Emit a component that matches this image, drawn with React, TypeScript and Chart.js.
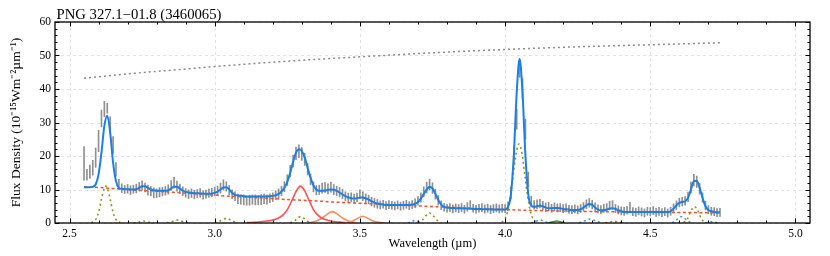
import { useEffect, useRef } from "react";
import { Chart, registerables } from "chart.js";

Chart.register(...registerables);

const TITLE = "PNG 327.1−01.8 (3460065)";
const X_LABEL = "Wavelength (µm)";
const Y_LABEL = "Flux Density (10⁻¹⁵Wm⁻²µm⁻¹)";

const X_MAJOR = [2.5, 3.0, 3.5, 4.0, 4.5, 5.0];
const X_MINOR = [2.5, 2.6, 2.7, 2.8, 2.9, 3.0, 3.1, 3.2, 3.3, 3.4, 3.5, 3.6, 3.7, 3.8, 3.9, 4.0, 4.1, 4.2, 4.3, 4.4, 4.5, 4.6, 4.7, 4.8, 4.9, 5.0];
const Y_MAJOR = [0, 10, 20, 30, 40, 50, 60];
const Y_MINOR = [0, 2, 4, 6, 8, 10, 12, 14, 16, 18, 20, 22, 24, 26, 28, 30, 32, 34, 36, 38, 40, 42, 44, 46, 48, 50, 52, 54, 56, 58, 60];

// sampling grid of the spectrum (2.55 .. 4.74 µm, 0.01 µm step)
const WL_START = 2.55;
const WL_STEP = 0.01;

// observed flux (centre) and 1-sigma error
const obsFlux = [
  17.8, 14.4, 15.3, 16.5, 19.5, 24.5, 31.2, 34.0, 34.3, 29.3,
  23.3, 16.0, 11.5, 10.4, 10.0, 10.2, 9.8, 10.1, 10.3, 10.8,
  11.2, 10.6, 9.8, 9.5, 9.0, 8.9, 9.2, 9.4, 9.6, 10.0,
  11.2, 12.0, 11.0, 10.2, 9.5, 9.0, 8.6, 8.9, 8.5, 8.8,
  9.0, 8.4, 8.6, 8.9, 9.1, 9.4, 9.6, 10.4, 11.4, 10.9,
  9.8, 8.6, 8.0, 7.2, 7.0, 6.9, 6.7, 6.8, 7.0, 6.9,
  6.8, 7.0, 7.2, 7.0, 7.4, 7.7, 8.3, 8.8, 9.6, 10.8,
  12.8, 15.5, 18.5, 20.8, 21.4, 20.6, 19.0, 16.0, 13.0, 10.8,
  9.8, 9.9, 10.4, 10.6, 10.2, 10.7, 10.0, 9.6, 9.2, 8.7,
  8.0, 7.6, 7.7, 7.3, 7.6, 8.6, 8.0, 7.4, 7.0, 6.4,
  6.0, 5.7, 5.4, 5.6, 5.2, 5.5, 5.3, 5.1, 5.4, 5.0,
  5.3, 5.6, 5.2, 5.5, 5.9, 6.6, 7.6, 9.3, 10.6, 11.5,
  10.4, 8.6, 6.8, 5.3, 4.7, 4.4, 4.6, 4.2, 4.5, 4.3,
  4.6, 4.1, 4.8, 5.4, 4.4, 4.1, 4.4, 4.6, 4.2, 4.4,
  4.0, 4.3, 4.5, 4.2, 4.4, 4.3, 5.0, 9.0, 20.0, 31.0,
  46.0, 40.0, 28.0, 13.0, 6.5, 5.4, 5.6, 5.8, 5.2, 4.7,
  4.9, 4.4, 4.8, 4.5, 4.6, 4.3, 4.5, 4.1, 4.0, 4.2,
  3.9, 4.3, 4.8, 5.6, 6.0, 5.5, 4.7, 4.2, 4.0, 4.4,
  4.6, 5.2, 5.4, 4.3, 3.9, 3.6, 3.5, 3.8, 4.9, 3.4,
  3.2, 3.6, 3.3, 3.0, 3.5, 3.4, 3.7, 3.2, 3.5, 3.1,
  3.4, 3.0, 3.5, 4.4, 5.3, 6.1, 6.4, 6.6, 7.8, 10.6,
  12.8, 12.3, 10.2, 7.6, 5.2, 4.0, 3.5, 3.4, 3.1, 3.2,
];
const obsErr = [
  5.0, 1.6, 2.0, 2.2, 2.9, 3.2, 2.5, 2.3, 1.5, 2.4,
  2.5, 2.0, 1.5, 1.3, 1.2, 1.3, 1.3, 1.2, 1.3, 1.3,
  1.4, 1.3, 1.5, 1.4, 1.5, 1.3, 1.4, 1.3, 1.3, 1.4,
  1.5, 1.6, 1.5, 1.4, 1.3, 1.3, 1.3, 1.3, 1.3, 1.2,
  1.3, 1.3, 1.2, 1.3, 1.3, 1.3, 1.4, 1.5, 1.5, 1.4,
  1.4, 1.3, 1.3, 1.4, 1.4, 1.5, 1.4, 1.5, 1.4, 1.5,
  1.4, 1.5, 1.4, 1.4, 1.3, 1.3, 1.3, 1.4, 1.4, 1.5,
  1.6, 1.7, 1.8, 1.9, 1.9, 1.9, 1.8, 1.7, 1.6, 1.5,
  1.4, 1.4, 1.5, 1.5, 1.5, 1.5, 1.5, 1.4, 1.4, 1.4,
  1.3, 1.3, 1.3, 1.3, 1.3, 1.3, 1.3, 1.3, 1.3, 1.3,
  1.3, 1.3, 1.2, 1.2, 1.2, 1.2, 1.2, 1.2, 1.2, 1.2,
  1.2, 1.2, 1.2, 1.2, 1.3, 1.3, 1.4, 1.5, 1.6, 1.6,
  1.6, 1.5, 1.4, 1.3, 1.2, 1.2, 1.2, 1.2, 1.2, 1.2,
  1.2, 1.2, 1.3, 1.3, 1.2, 1.2, 1.2, 1.2, 1.2, 1.2,
  1.2, 1.2, 1.2, 1.2, 1.2, 1.2, 1.3, 1.8, 2.5, 3.0,
  2.5, 3.0, 3.0, 2.2, 1.5, 1.3, 1.3, 1.3, 1.3, 1.3,
  1.3, 1.2, 1.2, 1.2, 1.2, 1.2, 1.2, 1.2, 1.2, 1.2,
  1.2, 1.2, 1.3, 1.3, 1.3, 1.3, 1.3, 1.2, 1.2, 1.2,
  1.2, 1.3, 1.3, 1.2, 1.2, 1.2, 1.2, 1.2, 1.3, 1.2,
  1.2, 1.2, 1.2, 1.2, 1.2, 1.2, 1.2, 1.2, 1.2, 1.2,
  1.2, 1.2, 1.2, 1.3, 1.3, 1.3, 1.3, 1.3, 1.4, 1.6,
  1.7, 1.7, 1.6, 1.4, 1.3, 1.2, 1.2, 1.2, 1.2, 1.2,
];

// total fitted model on the same grid
const modelFlux = [
  10.7, 10.7, 10.7, 10.8, 11.5, 14.5, 21.0, 29.0, 32.0, 27.0,
  18.0, 12.5, 10.5, 10.2, 10.1, 10.1, 10.0, 10.0, 10.1, 10.5,
  11.0, 11.0, 10.5, 10.0, 9.8, 9.7, 9.6, 9.6, 9.6, 9.8,
  10.3, 10.8, 10.8, 10.3, 9.7, 9.3, 9.1, 9.0, 8.9, 8.9,
  8.8, 8.8, 8.7, 8.7, 8.8, 9.0, 9.4, 10.0, 10.6, 10.7,
  10.0, 9.0, 8.4, 8.2, 8.1, 8.0, 7.9, 7.9, 7.9, 7.9,
  7.9, 7.9, 7.9, 7.9, 8.0, 8.1, 8.3, 8.7, 9.4, 10.5,
  12.3, 15.0, 18.3, 21.0, 22.0, 21.5, 19.5, 16.5, 13.5, 11.2,
  10.0, 9.6, 9.6, 9.7, 9.9, 10.0, 9.9, 9.6, 9.1, 8.5,
  8.0, 7.6, 7.4, 7.3, 7.4, 7.6, 7.6, 7.4, 7.0, 6.5,
  6.1, 5.8, 5.6, 5.5, 5.4, 5.4, 5.4, 5.4, 5.4, 5.4,
  5.4, 5.4, 5.4, 5.5, 5.7, 6.3, 7.3, 8.7, 10.0, 10.8,
  10.3, 8.7, 6.9, 5.5, 4.8, 4.6, 4.5, 4.5, 4.4, 4.4,
  4.4, 4.3, 4.3, 4.3, 4.2, 4.2, 4.2, 4.1, 4.1, 4.1,
  4.1, 4.0, 4.0, 4.0, 4.0, 4.0, 4.8, 8.5, 20.2, 38.9,
  49.0, 38.9, 20.2, 8.5, 5.2, 4.8, 5.0, 5.2, 5.0, 4.6,
  4.4, 4.4, 4.5, 4.5, 4.4, 4.2, 4.1, 4.0, 3.9, 3.9,
  3.9, 4.1, 4.6, 5.3, 5.7, 5.4, 4.6, 4.0, 3.8, 3.8,
  4.0, 4.3, 4.4, 4.2, 3.8, 3.5, 3.3, 3.3, 3.3, 3.3,
  3.3, 3.3, 3.3, 3.3, 3.3, 3.3, 3.3, 3.3, 3.3, 3.3,
  3.3, 3.3, 3.5, 4.3, 5.3, 6.0, 6.3, 6.5, 7.5, 10.0,
  12.5, 12.6, 10.5, 7.5, 5.0, 3.9, 3.5, 3.3, 3.2, 3.2,
];

// continuum (red dashed)
const contWl = [2.55, 2.6, 2.65, 2.7, 2.75, 2.8, 2.85, 2.9, 2.95, 3.0, 3.05, 3.1, 3.15, 3.2, 3.25, 3.3, 3.35, 3.4, 3.45, 3.5, 3.55, 3.6, 3.65, 3.7, 3.75, 3.8, 3.85, 3.9, 3.95, 4.0, 4.05, 4.1, 4.15, 4.2, 4.25, 4.3, 4.35, 4.4, 4.45, 4.5, 4.55, 4.6, 4.65, 4.7, 4.74];
const contFlux = [10.8, 10.6, 10.3, 10.0, 9.7, 9.5, 9.2, 8.9, 8.6, 8.3, 8.0, 7.8, 7.5, 7.3, 7.0, 6.8, 6.6, 6.3, 6.1, 5.9, 5.7, 5.5, 5.3, 5.1, 4.9, 4.7, 4.5, 4.3, 4.15, 4.0, 3.85, 3.75, 3.65, 3.55, 3.5, 3.4, 3.35, 3.3, 3.25, 3.2, 3.15, 3.1, 3.1, 3.05, 3.0];

// grey dotted curve near the top
const extWl = [2.55, 2.65, 2.75, 2.85, 3.0, 3.25, 3.5, 3.75, 4.0, 4.25, 4.5, 4.74];
const extVal = [43.2, 44.1, 44.9, 45.6, 46.7, 48.3, 49.6, 50.8, 51.8, 52.6, 53.2, 53.8];

// hydrogen lines (olive dotted)
const h1Wl = [2.575, 2.59, 2.6, 2.61, 2.62, 2.625, 2.63, 2.64, 2.65, 2.66, 2.675];
const h1Fl = [0.1, 1.0, 3.2, 7.1, 10.5, 11.0, 10.5, 7.1, 3.2, 1.0, 0.1];
const h2Wl = [2.72, 2.735, 2.745, 2.755, 2.765, 2.775, 2.79];
const h2Fl = [0.02, 0.2, 0.45, 0.6, 0.45, 0.2, 0.02];
const h3Wl = [2.835, 2.85, 2.862, 2.872, 2.882, 2.894, 2.91];
const h3Fl = [0.03, 0.3, 0.68, 0.9, 0.68, 0.3, 0.03];
const h4Wl = [3.0, 3.015, 3.028, 3.04, 3.052, 3.065, 3.08];
const h4Fl = [0.05, 0.45, 1.05, 1.4, 1.05, 0.45, 0.05];
const h5Wl = [3.26, 3.274, 3.285, 3.296, 3.307, 3.318, 3.332];
const h5Fl = [0.06, 0.6, 1.4, 1.9, 1.4, 0.6, 0.06];
const h6Wl = [3.7, 3.715, 3.728, 3.74, 3.752, 3.765, 3.78];
const h6Fl = [0.1, 0.9, 2.2, 3.0, 2.2, 0.9, 0.1];
const h7Wl = [3.988, 3.998, 4.008, 4.018, 4.028, 4.038, 4.048, 4.058, 4.068, 4.078, 4.088, 4.098, 4.108];
const h7Fl = [0.26, 1.0, 3.2, 7.7, 14.3, 20.8, 23.6, 20.8, 14.3, 7.7, 3.2, 1.0, 0.26];
const h8Wl = [4.345, 4.36, 4.375, 4.39, 4.405];
const h8Fl = [0.02, 0.3, 0.5, 0.3, 0.02];
const h9Wl = [4.615, 4.628, 4.64, 4.652, 4.664, 4.676, 4.69];
const h9Fl = [0.15, 1.2, 3.6, 4.9, 3.6, 1.2, 0.15];

// other lines (blue dotted)
const b1Wl = [3.665, 3.678, 3.69, 3.702, 3.715];
const b1Fl = [0.03, 0.45, 0.8, 0.45, 0.03];
const b2Wl = [4.09, 4.105, 4.12, 4.135, 4.15];
const b2Fl = [0.03, 0.5, 0.9, 0.5, 0.03];
const b3Wl = [4.255, 4.272, 4.292, 4.312, 4.33];
const b3Fl = [0.04, 0.6, 1.2, 0.6, 0.04];
const b4Wl = [4.575, 4.59, 4.607, 4.624, 4.64];
const b4Fl = [0.06, 0.95, 1.9, 0.95, 0.06];
const b5Wl = [4.69, 4.7, 4.712, 4.724, 4.735];
const b5Fl = [0.02, 0.2, 0.4, 0.2, 0.02];

// green line
const g1Wl = [4.15, 4.165, 4.178, 4.19, 4.205];
const g1Fl = [0.02, 0.35, 0.6, 0.35, 0.02];

// 3.3 µm PAH feature (red)
const pahWl = [3.11, 3.15, 3.18, 3.2, 3.22, 3.24, 3.25, 3.26, 3.27, 3.28, 3.29, 3.295, 3.3, 3.31, 3.32, 3.33, 3.34, 3.35, 3.37, 3.4, 3.43, 3.45];
const pahFl = [0.1, 0.3, 0.6, 0.9, 1.5, 2.8, 4.0, 5.6, 7.5, 9.4, 10.7, 11.0, 10.8, 9.6, 7.7, 5.8, 4.0, 2.8, 1.4, 0.6, 0.25, 0.1];

// aliphatic features (orange)
const o1Wl = [3.325, 3.35, 3.37, 3.385, 3.405, 3.425, 3.44, 3.46, 3.485];
const o1Fl = [0.1, 0.6, 1.5, 2.5, 3.4, 2.5, 1.5, 0.6, 0.1];
const o2Wl = [3.455, 3.475, 3.49, 3.51, 3.53, 3.545, 3.565, 3.585];
const o2Fl = [0.1, 0.6, 1.3, 2.0, 1.3, 0.6, 0.2, 0.05];

const SERIF = "'Liberation Serif', 'Times New Roman', serif";

function pts(xs: number[], ys: number[]) {
  return xs.map((x, i) => ({ x, y: ys[i] }));
}

function curve(xs: number[], ys: number[], color: string, width: number, dash: number[], order: number) {
  return {
    type: "line" as const,
    data: pts(xs, ys),
    borderColor: color,
    borderWidth: width,
    borderDash: dash,
    pointRadius: 0,
    fill: false,
    cubicInterpolationMode: "monotone" as const,
    order,
  };
}

const framePlugin = {
  id: "frameTicks",
  beforeDatasetsDraw(chart: any) {
    const { ctx, chartArea: a, scales } = chart;
    const x = scales.x;
    const y = scales.y;
    ctx.save();
    ctx.strokeStyle = "#dcdcdc";
    ctx.lineWidth = 0.8;
    ctx.setLineDash([3, 3]);
    for (const v of X_MAJOR) {
      const px = Math.round(x.getPixelForValue(v)) + 0.5;
      ctx.beginPath();
      ctx.moveTo(px, a.top);
      ctx.lineTo(px, a.bottom);
      ctx.stroke();
    }
    for (const v of Y_MAJOR) {
      const py = Math.round(y.getPixelForValue(v)) + 0.5;
      ctx.beginPath();
      ctx.moveTo(a.left, py);
      ctx.lineTo(a.right, py);
      ctx.stroke();
    }
    ctx.restore();
  },
  afterDraw(chart: any) {
    const { ctx, chartArea: a, scales } = chart;
    const x = scales.x;
    const y = scales.y;
    ctx.save();
    ctx.strokeStyle = "#000";
    ctx.setLineDash([]);
    ctx.lineWidth = 1;
    const seg = (x1: number, y1: number, x2: number, y2: number) => {
      ctx.beginPath();
      ctx.moveTo(x1, y1);
      ctx.lineTo(x2, y2);
      ctx.stroke();
    };
    for (const v of X_MINOR) {
      const px = Math.round(x.getPixelForValue(v)) + 0.5;
      const isMajor = X_MAJOR.some((m) => Math.abs(m - v) < 1e-6);
      const len = isMajor ? 4.5 : 2.5;
      seg(px, a.bottom, px, a.bottom - len);
      seg(px, a.top, px, a.top + len);
    }
    for (const v of Y_MINOR) {
      const py = Math.round(y.getPixelForValue(v)) + 0.5;
      const isMajor = Y_MAJOR.some((m) => Math.abs(m - v) < 1e-6);
      const len = isMajor ? 4.5 : 2.5;
      seg(a.left, py, a.left + len, py);
      seg(a.right, py, a.right - len, py);
    }
    ctx.lineWidth = 1.3;
    ctx.strokeRect(a.left, a.top, a.right - a.left, a.bottom - a.top);
    ctx.fillStyle = "#000";
    ctx.font = `14.7px ${SERIF}`;
    ctx.textAlign = "left";
    ctx.textBaseline = "alphabetic";
    ctx.fillText(TITLE, a.left + 1.5, a.top - 3.5);
    ctx.restore();
  },
};

export default function App() {
  const ref = useRef<HTMLCanvasElement | null>(null);

  useEffect(() => {
    if (!ref.current) return;
    const wl = obsFlux.map((_, i) => +(WL_START + i * WL_STEP).toFixed(3));
    const errBars = obsFlux.map((v, i) => ({ x: wl[i], y: [v - obsErr[i], v + obsErr[i]] }));

    const olive = "#8e9a16";
    const dotBlue = "#3d8de6";
    const datasets: any[] = [
      {
        type: "bar",
        data: errBars,
        backgroundColor: "#8f8f8f",
        borderWidth: 0,
        barThickness: 1,
        grouped: false,
        order: 20,
      },
      curve(extWl, extVal, "#8c8c8c", 1.5, [2, 3], 6),
      curve(contWl, contFlux, "#f2542d", 1.5, [3, 2.5], 3),
      curve(pahWl, pahFl, "#ff4f4f", 1.6, [], 5),
      curve(o1Wl, o1Fl, "#ff8c5a", 1.6, [], 5),
      curve(o2Wl, o2Fl, "#ff8c5a", 1.6, [], 5),
      curve(h1Wl, h1Fl, olive, 1.6, [2, 3], 4),
      curve(h2Wl, h2Fl, olive, 1.6, [2, 3], 4),
      curve(h3Wl, h3Fl, olive, 1.6, [2, 3], 4),
      curve(h4Wl, h4Fl, olive, 1.6, [2, 3], 4),
      curve(h5Wl, h5Fl, olive, 1.6, [2, 3], 4),
      curve(h6Wl, h6Fl, olive, 1.6, [2, 3], 4),
      curve(h7Wl, h7Fl, olive, 1.6, [2, 3], 4),
      curve(h8Wl, h8Fl, olive, 1.6, [2, 3], 4),
      curve(h9Wl, h9Fl, olive, 1.6, [2, 3], 4),
      curve(b1Wl, b1Fl, dotBlue, 1.5, [2, 3], 4),
      curve(b2Wl, b2Fl, dotBlue, 1.5, [2, 3], 4),
      curve(b3Wl, b3Fl, dotBlue, 1.5, [2, 3], 4),
      curve(b4Wl, b4Fl, dotBlue, 1.5, [2, 3], 4),
      curve(b5Wl, b5Fl, dotBlue, 1.5, [2, 3], 4),
      curve(g1Wl, g1Fl, "#2ca02c", 1.5, [], 4),
      curve(wl, modelFlux, "#1a80e8", 2, [], 0),
    ];

    const chart = new Chart(ref.current, {
      type: "line",
      data: { datasets },
      options: {
        animation: false,
        responsive: true,
        maintainAspectRatio: false,
        layout: { padding: { top: 22, right: 20, left: 0, bottom: 0 } },
        plugins: { legend: { display: false }, tooltip: { enabled: false }, title: { display: false } },
        scales: {
          x: {
            type: "linear",
            min: 2.45,
            max: 5.05,
            offset: false,
            afterBuildTicks: (s: any) => {
              s.ticks = X_MAJOR.map((v) => ({ value: v }));
            },
            afterFit: (s: any) => {
              s.height = 33;
            },
            grid: { display: false, drawTicks: false, offset: false },
            border: { display: false },
            ticks: {
              padding: 4,
              color: "#000",
              font: { family: SERIF, size: 11.5 },
              maxRotation: 0,
              autoSkip: false,
              callback: (v: any) => Number(v).toFixed(1),
            },
            title: {
              display: true,
              text: X_LABEL,
              color: "#000",
              font: { family: SERIF, size: 12.5 },
              padding: { top: 0, bottom: 5 },
            },
          },
          y: {
            type: "linear",
            min: 0,
            max: 60,
            afterBuildTicks: (s: any) => {
              s.ticks = Y_MAJOR.map((v) => ({ value: v }));
            },
            afterFit: (s: any) => {
              s.width = 55;
            },
            grid: { display: false, drawTicks: false },
            border: { display: false },
            ticks: {
              padding: 4,
              color: "#000",
              font: { family: SERIF, size: 11.5 },
              autoSkip: false,
            },
            title: {
              display: true,
              text: Y_LABEL,
              color: "#000",
              font: { family: SERIF, size: 13.5 },
              padding: { top: 8, bottom: 0 },
            },
          },
        },
      },
      plugins: [framePlugin],
    });
    return () => chart.destroy();
  }, []);

  return (
    <div style={{ position: "absolute", left: 0, top: 0, width: 830, height: 256 }}>
      <canvas ref={ref} />
    </div>
  );
}
